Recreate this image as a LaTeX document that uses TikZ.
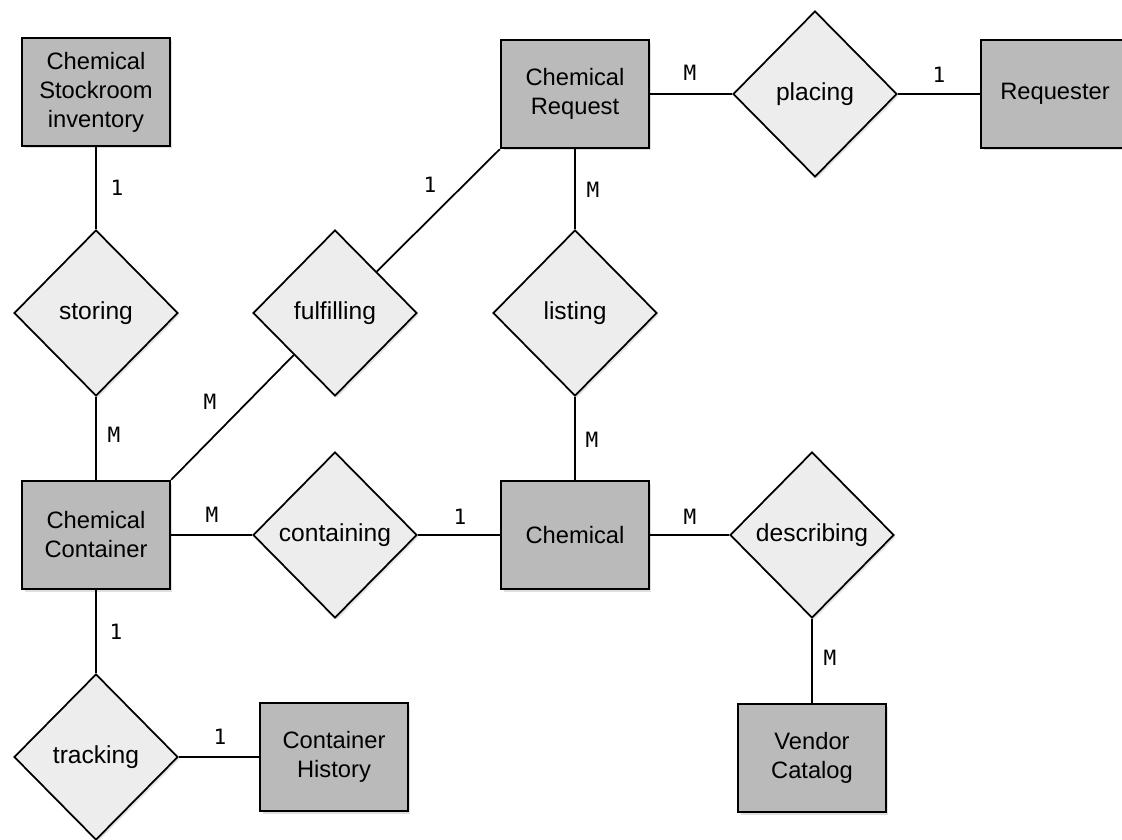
\documentclass[tikz,border=0pt]{standalone}
\usepackage{fontspec}
\setmainfont{Liberation Sans}
\newfontfamily\cardfont{DejaVu Sans Mono}
\usetikzlibrary{shapes.geometric,shadows}
\tikzset{
  entity/.style={draw, line width=1.3pt, fill=black!27, minimum width=2.96cm, minimum height=2.16cm,
    align=center, font=\fontsize{13.5}{16.5}\selectfont,
    drop shadow={shadow xshift=0.05cm, shadow yshift=-0.05cm, opacity=0.25}},
  relation/.style={draw, diamond, line width=1pt, fill=black!7, minimum width=3.28cm, minimum height=3.32cm,
    inner sep=0pt, font=\fontsize{14}{16}\selectfont,
    drop shadow={shadow xshift=0.04cm, shadow yshift=-0.04cm, opacity=0.2}},
  card/.style={font=\cardfont\fontsize{12}{12}\selectfont, inner sep=0pt},
  link/.style={line width=1pt}
}
\begin{document}
\begin{tikzpicture}[x=0.02cm, y=-0.02cm]
  \useasboundingbox[fill=white] (0,0) rectangle (1122,839);
  \node[entity](stock)at(96,92){Chemical\\Stockroom\\inventory};
  \node[entity](request)at(575,94){Chemical\\Request};
  \node[entity](requester)at(1055,94){Requester};
  \node[entity](container)at(96,535){Chemical\\Container};
  \node[entity](chemical)at(575,535){Chemical};
  \node[entity](history)at(334,757){Container\\History};
  \node[entity](vendor)at(812,758){Vendor\\Catalog};
  \node[relation](storing)at(96,313){storing};
  \node[relation](fulfilling)at(335,313){fulfilling};
  \node[relation](listing)at(575,313){listing};
  \node[relation](placing)at(815,94){placing};
  \node[relation](containing)at(335,535){containing};
  \node[relation](describing)at(812,535){describing};
  \node[relation](tracking)at(96,757){tracking};
  \draw[link](stock)--(storing)--(container);
  \draw[link](container.north east)--(fulfilling)--(request.south west);
  \draw[link](request)--(listing)--(chemical);
  \draw[link](request)--(placing)--(requester);
  \draw[link](container)--(containing)--(chemical)--(describing)--(vendor);
  \draw[link](container)--(tracking)--(history);
  \foreach \x/\y/\t [count=\i] in {117/188/1, 114/435/M, 430/185/1, 210/402/M, 593/190/M, 592/440/M,
    212/515/M, 460/517/1, 690/517/M, 830/658/M, 116/632/1, 220/737/1, 690/73/M, 939/75/1}{
    \node[card](c\i)at(\x,\y){\t};
  }
\end{tikzpicture}
\end{document}
